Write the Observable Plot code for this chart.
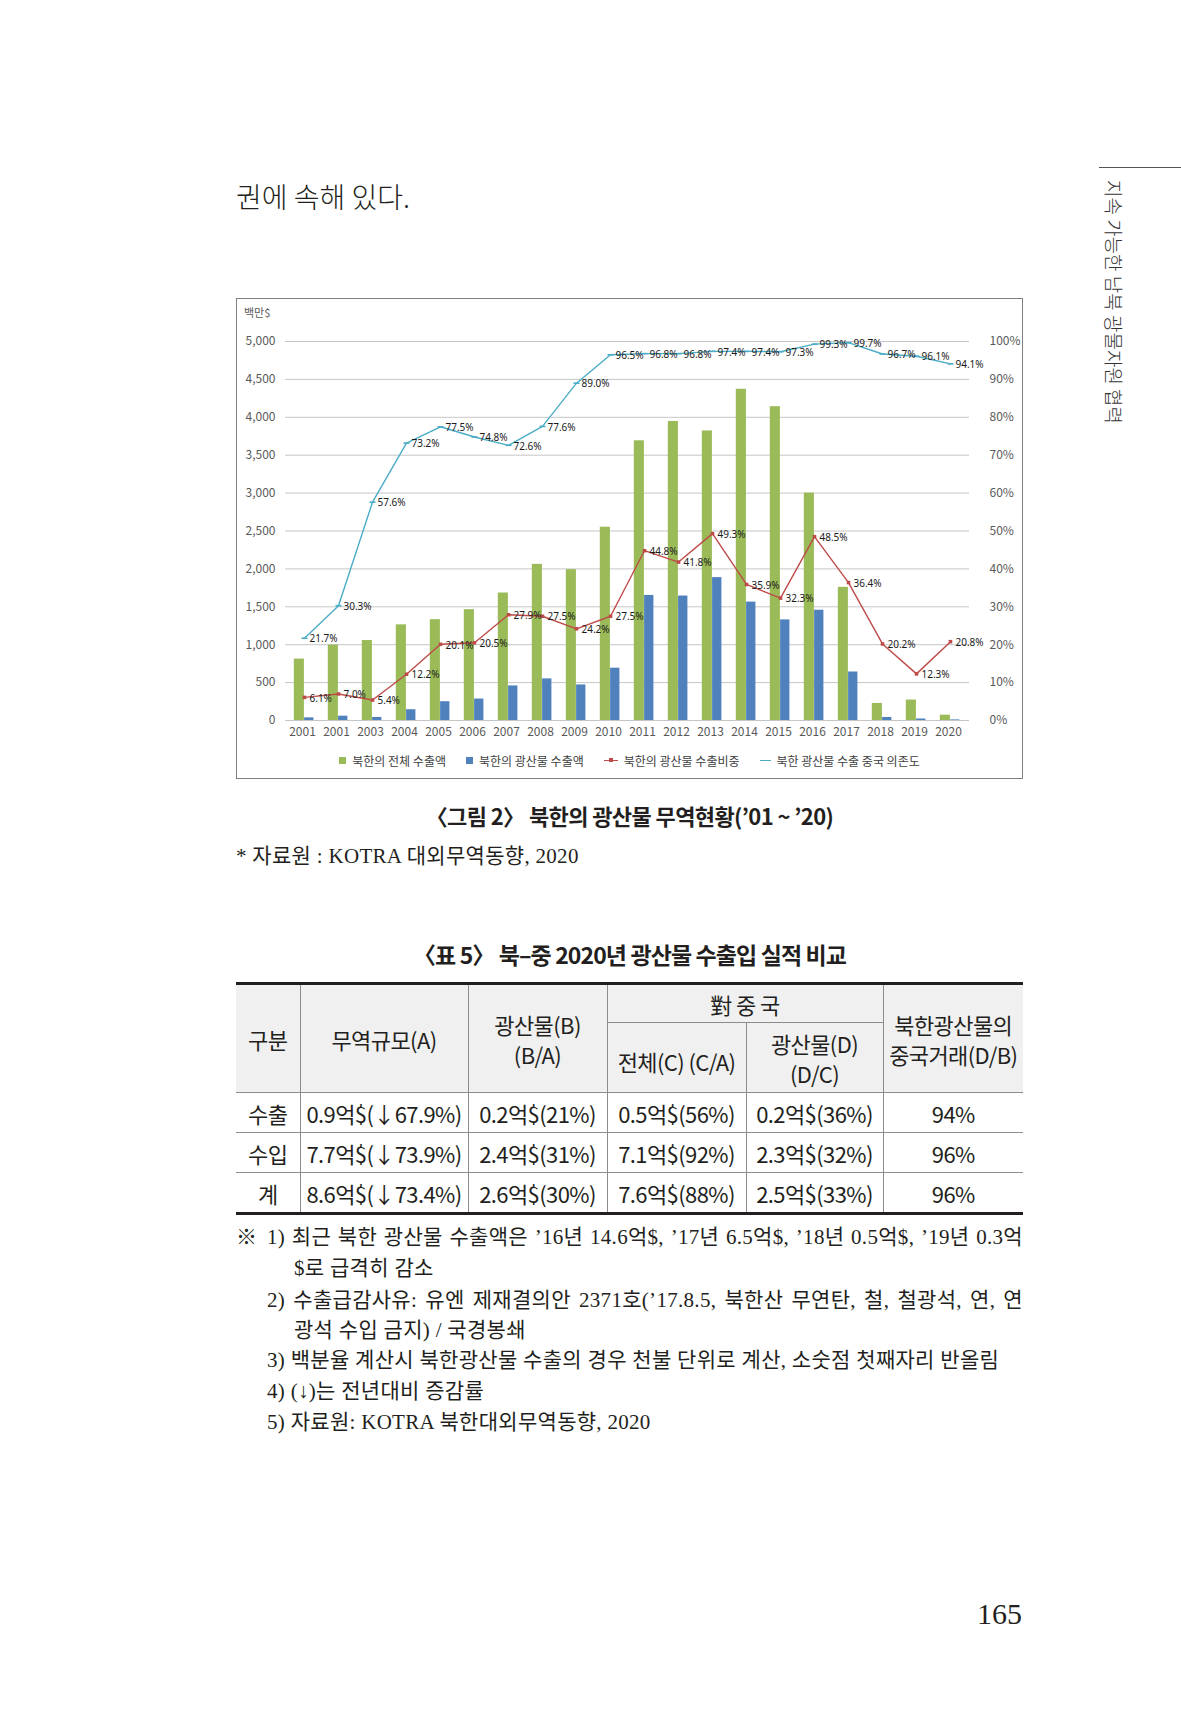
<!DOCTYPE html>
<html><head><meta charset="utf-8">
<script src="https://cdn.jsdelivr.net/npm/d3@7"></script>
<script src="https://cdn.jsdelivr.net/npm/@observablehq/plot@0.6"></script>
<style>
html,body{margin:0;padding:0;background:#fff;}
body{width:1181px;height:1732px;position:relative;overflow:hidden;font-family:"Noto Sans CJK KR","Noto Sans",sans-serif;color:#231f20;}
.abs{position:absolute;white-space:nowrap;}
.serif{font-family:"Liberation Serif","Noto Sans CJK KR",serif;}
#frame{position:absolute;left:236px;top:298px;width:787px;height:481px;box-sizing:border-box;border:1px solid #7f7f7f;background:#fff;}
#frame svg{position:absolute;left:0;top:0;}
#unit{position:absolute;left:7px;top:6px;font-size:11px;color:#595959;line-height:14px;}
#legend{position:absolute;left:0;top:448px;width:785px;height:26px;display:flex;justify-content:center;align-items:center;gap:20px;font-size:12px;color:#404040;}
.li{display:flex;align-items:center;gap:6px;}
.sw{width:7px;height:7px;display:inline-block;}
.ln{position:relative;width:14px;height:7px;display:inline-block;}
.ln .bar{position:absolute;left:0;right:0;top:3px;height:1.4px;}
.ln .mk{position:absolute;left:5px;top:1.5px;width:4px;height:4px;}
table.t{position:absolute;left:236px;top:982px;width:787px;border-collapse:collapse;table-layout:fixed;font-size:22px;letter-spacing:-0.6px;color:#231f20;}
table.t th, table.t td{border-left:1px solid #8c8c8c;border-right:1px solid #8c8c8c;text-align:center;vertical-align:middle;padding:0;font-weight:400;line-height:30px;}
table.t tr > *:first-child{border-left:none;}
table.t tr > *:last-child{border-right:none;}
table.t thead th{background:#f0f0f0;border-bottom:1px solid #8c8c8c;}
table.t thead tr:first-child th{border-top:3px solid #231f20;}
table.t tbody td{border-bottom:1px solid #8c8c8c;height:39px;}
table.t tbody tr:last-child td{border-bottom:3px solid #231f20;}
.note{position:absolute;font-size:21px;letter-spacing:0.3px;line-height:30px;height:30px;color:#231f20;}
.just{text-align:justify;text-align-last:justify;}
</style></head><body>
<script>
// ---------- chart data ----------
const years = [2001,2002,2003,2004,2005,2006,2007,2008,2009,2010,2011,2012,2013,2014,2015,2016,2017,2018,2019,2020];
const yearLabels = ["2001","2001","2003","2004","2005","2006","2007","2008","2009","2010","2011","2012","2013","2014","2015","2016","2017","2018","2019","2020"];
const totalExports = [810, 995, 1055, 1262, 1330, 1462, 1682, 2060, 1990, 2550, 3690, 3945, 3820, 4370, 4140, 3000, 1757, 225, 270, 70];
const mineralExports = [35, 57, 40, 142, 248, 283, 456, 549, 469, 690, 1650, 1642, 1885, 1562, 1327, 1455, 640, 40, 20, 8];
const mineralShare = [6.1, 7.0, 5.4, 12.2, 20.1, 20.5, 27.9, 27.5, 24.2, 27.5, 44.8, 41.8, 49.3, 35.9, 32.3, 48.5, 36.4, 20.2, 12.3, 20.8];
const chinaDependence = [21.7, 30.3, 57.6, 73.2, 77.5, 74.8, 72.6, 77.6, 89.0, 96.5, 96.8, 96.8, 97.4, 97.4, 97.3, 99.3, 99.7, 96.7, 96.1, 94.1];
const leftTicks = [0,500,1000,1500,2000,2500,3000,3500,4000,4500,5000];
const rightTickLabels = ["0%","10%","20%","30%","40%","50%","60%","70%","80%","90%","100%"];
const seriesNames = ["북한의 전체 수출액","북한의 광산물 수출액","북한의 광산물 수출비중","북한 광산물 수출 중국 의존도"];
const unitLabel = "백만$";

// ---------- table data ----------
const tableTitle = "〈표 5〉 북–중 2020년 광산물 수출입 실적 비교";
const rowLabels = ["수출","수입","계"];
const tradeVolume = ["0.9억$(↓67.9%)","7.7억$(↓73.9%)","8.6억$(↓73.4%)"];
const mineralTrade = ["0.2억$(21%)","2.4억$(31%)","2.6억$(30%)"];
const chinaTotal = ["0.5억$(56%)","7.1억$(92%)","7.6억$(88%)"];
const chinaMineral = ["0.2억$(36%)","2.3억$(32%)","2.5억$(33%)"];
const chinaShare = ["94%","96%","96%"];

const colors = {green:"#9BBB59", blue:"#4F81BD", red:"#BE4B48", cyan:"#4BACC6"};
</script>

<div class="abs" style="left:236px;top:181px;font-size:28px;line-height:30px;font-weight:300;color:#231f20;">권에 속해 있다.</div>

<div class="abs" style="left:1099px;top:167px;width:82px;height:1px;background:#555;"></div>
<div class="abs" style="left:1125px;top:180px;font-size:19px;line-height:21px;height:21px;transform:rotate(90deg);transform-origin:0 0;color:#333;font-weight:300;">지속 가능한 남북 광물자원 협력</div>

<div id="frame"><div id="unit"></div><div id="legend"></div></div>

<div class="abs" style="left:236px;width:787px;top:800px;height:30px;line-height:30px;text-align:center;font-size:22px;font-weight:700;letter-spacing:-0.6px;">〈그림 2〉 북한의 광산물 무역현황(’01 ~ ’20)</div>
<div class="abs serif" style="left:236px;top:841px;height:30px;line-height:30px;font-size:21px;letter-spacing:0.3px;color:#231f20;">* 자료원 : KOTRA 대외무역동향, 2020</div>

<div id="ttitle" class="abs" style="left:236px;width:787px;top:939px;height:30px;line-height:30px;text-align:center;font-size:23px;font-weight:700;letter-spacing:-0.9px;"></div>

<table class="t" id="tbl">
<colgroup><col style="width:64px"><col style="width:168px"><col style="width:139px"><col style="width:139px"><col style="width:137px"><col style="width:140px"></colgroup>
<thead>
<tr style="height:39px"><th rowspan="2">구분</th><th rowspan="2">무역규모(A)</th><th rowspan="2">광산물(B)<br>(B/A)</th><th colspan="2">對 중 국</th><th rowspan="2">북한광산물의<br>중국거래(D/B)</th></tr>
<tr style="height:70px"><th style="padding-top:6px">전체(C) (C/A)</th><th>광산물(D)<br>(D/C)</th></tr>
</thead>
<tbody id="tb"></tbody>
</table>

<div class="note serif abs" style="left:236px;top:1222px;">※</div>
<div class="note serif just" style="left:267px;width:756px;top:1222px;">1) 최근 북한 광산물 수출액은 ’16년 14.6억$, ’17년 6.5억$, ’18년 0.5억$, ’19년 0.3억</div>
<div class="note serif abs" style="left:294px;top:1253px;">$로 급격히 감소</div>
<div class="note serif just" style="left:267px;width:756px;top:1285px;">2) 수출급감사유: 유엔 제재결의안 2371호(’17.8.5, 북한산 무연탄, 철, 철광석, 연, 연</div>
<div class="note serif abs" style="left:294px;top:1315px;">광석 수입 금지) / 국경봉쇄</div>
<div class="note serif abs" style="left:267px;top:1345px;">3) 백분율 계산시 북한광산물 수출의 경우 천불 단위로 계산, 소숫점 첫째자리 반올림</div>
<div class="note serif abs" style="left:267px;top:1376px;">4) (↓)는 전년대비 증감률</div>
<div class="note serif abs" style="left:267px;top:1407px;">5) 자료원: KOTRA 북한대외무역동향, 2020</div>

<div class="abs serif" style="left:962px;width:60px;text-align:right;top:1596px;height:36px;line-height:36px;font-size:30px;color:#231f20;">165</div>

<script>
const data = years.map((year, i) => ({
  year, total: totalExports[i], mineral: mineralExports[i], share: mineralShare[i], china: chinaDependence[i]
}));
const pctScale = 5000 / 100;
const dash = {draw(ctx){ ctx.moveTo(-3,-0.8); ctx.lineTo(3,-0.8); ctx.lineTo(3,0.8); ctx.lineTo(-3,0.8); ctx.closePath(); }};
const fmt = d3.format(",");
const labelFont = "'Noto Sans', 'DejaVu Sans', sans-serif";

const chart = Plot.plot({
  width: 785, height: 448,
  marginLeft: 48, marginRight: 53, marginTop: 42, marginBottom: 27,
  style: {fontFamily: "'Noto Sans CJK KR','Noto Sans',sans-serif", fontSize: "12px", color: "#595959", background: "transparent", overflow: "visible"},
  x: {type: "band", domain: years, padding: 0},
  y: {domain: [0, 5000]},
  marks: [
    Plot.gridY(leftTicks, {stroke: "#c6c6c6", strokeOpacity: 1, strokeWidth: 1}),
    Plot.axisY(leftTicks, {anchor: "left", tickSize: 0, tickPadding: 10, tickFormat: d => fmt(d), label: null}),
    Plot.axisY(leftTicks, {anchor: "right", tickSize: 0, tickPadding: 20, tickFormat: d => rightTickLabels[leftTicks.indexOf(d)], label: null}),
    Plot.axisX({tickSize: 0, tickPadding: 7, dx: -2, tickFormat: d => yearLabels[years.indexOf(d)], label: null}),
    Plot.barY(data, {x: "year", y: "total", fill: colors.green, insetLeft: 6.8, insetRight: 17.1}),
    Plot.barY(data, {x: "year", y: "mineral", fill: colors.blue, insetLeft: 17.1, insetRight: 7.6}),
    Plot.line(data, {x: "year", y: d => d.share * pctScale, stroke: colors.red, strokeWidth: 1.4}),
    Plot.line(data, {x: "year", y: d => d.china * pctScale, stroke: colors.cyan, strokeWidth: 1.4}),
    Plot.dot(data, {x: "year", y: d => d.share * pctScale, symbol: "square", r: 2, fill: colors.red}),
    Plot.dot(data, {x: "year", y: d => d.china * pctScale, symbol: dash, fill: colors.cyan}),
    Plot.text(data, {x: "year", y: d => d.share * pctScale, text: d => d.share.toFixed(1) + "%", dx: 5, dy: 1, textAnchor: "start", fontSize: 10, fill: "#1a1a1a", fontFamily: labelFont}),
    Plot.text(data, {x: "year", y: d => d.china * pctScale, text: d => d.china.toFixed(1) + "%", dx: 5, dy: 1, textAnchor: "start", fontSize: 10, fill: "#1a1a1a", fontFamily: labelFont})
  ]
});
const frame = document.getElementById("frame");
frame.insertBefore(chart, frame.firstChild);
document.getElementById("unit").textContent = unitLabel;

const legend = document.getElementById("legend");
const legendKinds = [["sw", colors.green], ["sw", colors.blue], ["ln", colors.red], ["ln2", colors.cyan]];
legendKinds.forEach(([kind, c], i) => {
  const item = document.createElement("div"); item.className = "li";
  let key;
  if (kind === "sw") { key = `<span class="sw" style="background:${c}"></span>`; }
  else if (kind === "ln") { key = `<span class="ln"><span class="bar" style="background:${c}"></span><span class="mk" style="background:${c}"></span></span>`; }
  else { key = `<span class="ln" style="width:11px"><span class="bar" style="background:${c}"></span></span>`; }
  item.innerHTML = key + `<span>${seriesNames[i]}</span>`;
  legend.appendChild(item);
});

document.getElementById("ttitle").textContent = tableTitle;
const tb = document.getElementById("tb");
rowLabels.forEach((r, i) => {
  const tr = document.createElement("tr");
  [r, tradeVolume[i], mineralTrade[i], chinaTotal[i], chinaMineral[i], chinaShare[i]].forEach(v => {
    const td = document.createElement("td"); td.textContent = v; tr.appendChild(td);
  });
  tb.appendChild(tr);
});
</script>
</body></html>
